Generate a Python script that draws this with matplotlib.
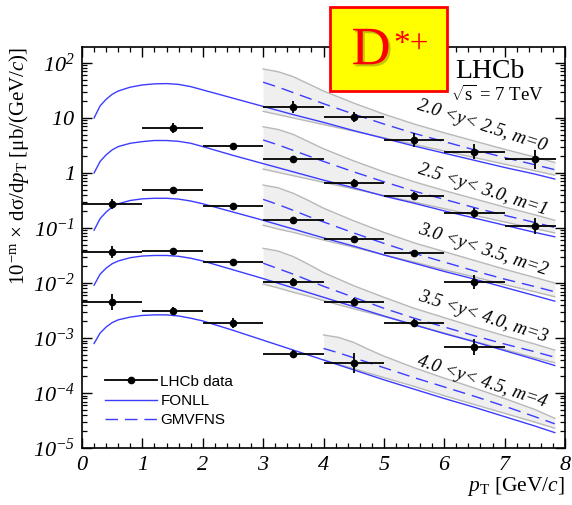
import numpy as np
import matplotlib.pyplot as plt
from matplotlib.patches import Rectangle
from matplotlib.lines import Line2D
from matplotlib.ticker import FixedLocator, FuncFormatter, MultipleLocator, LogLocator, NullFormatter
import matplotlib.patheffects as pe

plt.rcParams['font.family'] = 'Liberation Serif'
# math digits come from the rm font: make it italic, keep sf upright for T, m, s
plt.rcParams['mathtext.fontset'] = 'custom'
plt.rcParams['mathtext.rm'] = 'Liberation Serif:italic'
plt.rcParams['mathtext.it'] = 'Liberation Serif:italic'
plt.rcParams['mathtext.sf'] = 'Liberation Serif'
plt.rcParams['mathtext.bf'] = 'Liberation Serif:bold'

nan = np.nan

# pT bins [GeV/c]
pt_mid = [0.5, 1.5, 2.5, 3.5, 4.5, 5.5, 6.5, 7.5]
pt_lo = [0.0, 1.0, 2.0, 3.0, 4.0, 5.0, 6.0, 7.0]
pt_hi = [1.0, 2.0, 3.0, 4.0, 5.0, 6.0, 7.0, 7.85]

# LHCb D*+ cross sections x 10^-m, one row per rapidity bin
xsec = [
    [nan, nan, nan, 15.8, 10.4, 4.0, 2.45, 1.78],
    [nan, 6.6, 3.1, 1.8, 0.66, 0.38, 0.19, 0.11],
    [0.27, 0.49, 0.25, 0.14, 0.063, 0.035, 0.0105, nan],
    [0.0366, 0.038, 0.024, 0.0104, 0.0045, 0.0019, 0.00069, nan],
    [0.0045, 0.0031, 0.0019, 0.00051, 0.00035, nan, nan, nan],
]
# relative uncertainties
xsec_err = [
    [0, 0, 0, 0.28, 0.23, 0.33, 0.37, 0.49],
    [0, 0.25, 0.13, 0.13, 0.18, 0.18, 0.23, 0.40],
    [0.23, 0.09, 0.16, 0.09, 0.13, 0.13, 0.34, 0],
    [0.26, 0.09, 0.16, 0.16, 0.18, 0.18, 0.40, 0],
    [0.40, 0.18, 0.23, 0.18, 0.52, 0, 0, 0],
]

# FONLL central prediction, log10 of the scaled cross section
fonll_pt = [0.2, 0.3, 0.4, 0.5, 0.6, 0.8, 1.0, 1.2, 1.4, 1.6, 1.8, 2.0,
            2.5, 3.0, 3.5, 4.0, 4.5, 5.0, 5.5, 6.0, 6.5, 7.0, 7.5, 7.83]
fonll_log = [
    [1.00, 1.22, 1.34, 1.43, 1.49, 1.56, 1.60, 1.62, 1.625, 1.61, 1.57, 1.51,
     1.36, 1.21, 1.06, 0.92, 0.77, 0.63, 0.49, 0.36, 0.23, 0.10, -0.02, -0.11],
    [0.00, 0.21, 0.33, 0.42, 0.48, 0.54, 0.57, 0.59, 0.59, 0.575, 0.54, 0.48,
     0.32, 0.17, 0.02, -0.13, -0.27, -0.42, -0.55, -0.69, -0.82, -0.95, -1.08, -1.16],
    [-1.04, -0.83, -0.71, -0.62, -0.56, -0.50, -0.47, -0.46, -0.46, -0.475, -0.51, -0.56,
     -0.71, -0.86, -1.02, -1.18, -1.33, -1.49, -1.64, -1.79, -1.93, -2.08, -2.23, -2.33],
    [-2.04, -1.84, -1.73, -1.65, -1.60, -1.54, -1.51, -1.50, -1.50, -1.515, -1.55, -1.60,
     -1.76, -1.92, -2.09, -2.26, -2.43, -2.60, -2.76, -2.92, -3.07, -3.23, -3.39, -3.50],
    [-3.10, -2.91, -2.80, -2.72, -2.67, -2.62, -2.59, -2.58, -2.58, -2.60, -2.64, -2.69,
     -2.86, -3.04, -3.22, -3.40, -3.58, -3.76, -3.93, -4.10, -4.26, -4.43, -4.60, -4.72],
]

# GMVFNS band (upper, central, lower), log10
gmv_grid = [3.0, 3.25, 3.5, 3.75, 4.0, 4.5, 5.0, 5.5, 6.0, 6.5, 7.0, 7.5, 7.83]
gmv_grid_fwd = [4.0, 4.25, 4.5, 4.75, 5.0, 5.5, 6.0, 6.5, 7.0, 7.5, 7.83]
gmv_pt = [gmv_grid, gmv_grid, gmv_grid, gmv_grid, gmv_grid_fwd]
gmv_hi = [
    [1.89, 1.84, 1.75, 1.62, 1.49, 1.27, 1.07, 0.89, 0.73, 0.58, 0.43, 0.29, 0.19],
    [0.84, 0.79, 0.70, 0.57, 0.44, 0.22, 0.02, -0.16, -0.32, -0.47, -0.62, -0.76, -0.86],
    [-0.22, -0.27, -0.37, -0.50, -0.64, -0.87, -1.08, -1.27, -1.43, -1.59, -1.75, -1.90, -2.00],
    [-1.37, -1.42, -1.52, -1.66, -1.81, -2.05, -2.26, -2.46, -2.63, -2.80, -2.96, -3.11, -3.22],
    [-2.945, -2.99, -3.08, -3.21, -3.33, -3.54, -3.73, -3.91, -4.10, -4.30, -4.46],
]
gmv_mid = [
    [1.65, 1.56, 1.46, 1.36, 1.26, 1.07, 0.89, 0.72, 0.57, 0.42, 0.28, 0.15, 0.06],
    [0.60, 0.51, 0.41, 0.31, 0.21, 0.02, -0.16, -0.33, -0.48, -0.63, -0.77, -0.90, -0.99],
    [-0.48, -0.575, -0.68, -0.79, -0.89, -1.09, -1.28, -1.46, -1.62, -1.78, -1.93, -2.065, -2.16],
    [-1.64, -1.74, -1.84, -1.95, -2.06, -2.26, -2.46, -2.64, -2.80, -2.96, -3.11, -3.25, -3.35],
    [-3.19, -3.27, -3.36, -3.45, -3.54, -3.72, -3.89, -4.06, -4.24, -4.43, -4.56],
]
gmv_lo = [
    [1.12, 1.06, 1.00, 0.94, 0.88, 0.76, 0.64, 0.52, 0.40, 0.28, 0.16, 0.04, -0.04],
    [0.07, 0.01, -0.05, -0.11, -0.17, -0.29, -0.41, -0.53, -0.65, -0.77, -0.89, -1.01, -1.09],
    [-0.95, -1.02, -1.08, -1.15, -1.22, -1.35, -1.49, -1.62, -1.76, -1.89, -2.03, -2.16, -2.25],
    [-2.02, -2.09, -2.17, -2.24, -2.32, -2.47, -2.61, -2.76, -2.91, -3.06, -3.21, -3.36, -3.45],
    [-3.40, -3.48, -3.56, -3.64, -3.72, -3.88, -4.05, -4.21, -4.37, -4.53, -4.64],
]

y_labels = ['2.0 <y< 2.5, m=0', '2.5 <y< 3.0, m=1', '3.0 <y< 3.5, m=2',
            '3.5 <y< 4.0, m=3', '4.0 <y< 4.5, m=4']
y_label_pos = [(6.62, 0.85), (6.64, -0.31), (6.64, -1.40), (6.64, -2.62), (6.62, -3.80)]

blue = '#3c3cff'
band_face = '#efefef'
band_edge = '#b8b8b8'

fig = plt.figure(figsize=(5.72, 5.05), dpi=100)
ax = fig.add_axes([82/572, 1-448/505, 483/572, 401/505])
ax.set_yscale('log')

for i in range(5):
    xs = np.array(gmv_pt[i])
    hi = 10**np.array(gmv_hi[i])
    mid = 10**np.array(gmv_mid[i])
    lo = 10**np.array(gmv_lo[i])
    ax.fill_between(xs, lo, hi, color=band_face, lw=0, zorder=1)
    ax.plot(xs, hi, color=band_edge, lw=1.0, zorder=2)
    ax.plot(xs, lo, color=band_edge, lw=1.0, zorder=2)
    ax.plot(xs, mid, color=blue, lw=1.0, dashes=(9, 5), zorder=3)
    ax.plot(fonll_pt, 10**np.array(fonll_log[i]), color=blue, lw=1.0, zorder=3)

for i in range(5):
    v = np.array(xsec[i])
    f = np.array(xsec_err[i])
    xm = np.array(pt_mid)
    xerr = [xm - np.array(pt_lo), np.array(pt_hi) - xm]
    yerr = [v - v/(1+f), v*f]
    ax.errorbar(xm, v, xerr=xerr, yerr=yerr, fmt='o', color='black', ms=4.5,
                elinewidth=1.3, capsize=0, zorder=5)

for lab, (tx, ty) in zip(y_labels, y_label_pos):
    ax.text(tx, 10**ty, lab, rotation=-18, style='italic', fontsize=13.5,
            ha='center', va='center', rotation_mode='anchor')

ax.set_xlim(0, 8)
ax.set_ylim(1e-5, 10**2.29)

ax.xaxis.set_major_locator(MultipleLocator(1))
ax.xaxis.set_minor_locator(MultipleLocator(0.2))
ax.xaxis.set_major_formatter(FuncFormatter(lambda v, p: r'$%d$' % round(v)))

dec_labels = {2: r'$10^{2}$', 1: r'$10$', 0: r'$1$'}
ax.yaxis.set_major_locator(FixedLocator([10.0**k for k in range(-5, 3)]))
ax.yaxis.set_minor_locator(LogLocator(base=10, subs=np.arange(2, 10), numticks=20))
ax.yaxis.set_minor_formatter(NullFormatter())
ax.yaxis.set_major_formatter(FuncFormatter(
    lambda v, p: dec_labels.get(round(np.log10(v)), r'$10^{%d}$' % round(np.log10(v)))))

ax.tick_params(which='both', direction='in', top=True, right=True, labelsize=16)
ax.tick_params(which='major', length=7, width=1.0)
ax.tick_params(which='minor', length=3.5, width=0.9)
ax.tick_params(axis='x', pad=6)
ax.tick_params(axis='y', pad=5)
for s in ax.spines.values():
    s.set_linewidth(1.2)

ax.set_ylabel(r'10$^{-\mathsf{m}}$ × dσ/d$p_{\mathsf{T}}$ [μb/(GeV/$c$)]',
              fontsize=15, loc='top', labelpad=1)
ax.set_xlabel(r'$p_{\mathsf{T}}$ [GeV/$c$]', fontsize=15.5, loc='right', labelpad=0)

handles = [Line2D([], [], color='black', marker='o', ms=4.5, lw=1.3),
           Line2D([], [], color=blue, lw=1.0),
           Line2D([], [], color=blue, lw=1.0, dashes=(9, 5))]
ax.legend(handles, ['LHCb data', 'FONLL', 'GMVFNS'], loc='upper left',
          bbox_to_anchor=(0.047, 0.183), borderaxespad=0, borderpad=0,
          frameon=False, handlelength=3.4, handletextpad=0.25, labelspacing=0.35,
          prop={'family': 'Liberation Sans', 'size': 11})

ax.text(0.773, 0.94, 'LHCb', transform=ax.transAxes, fontsize=20, ha='left', va='center')
ax.text(0.763, 0.88, r'$\sqrt{\mathsf{s}}$ = 7 TeV', transform=ax.transAxes, fontsize=13.5,
        ha='left', va='center')

# particle tag
box = Rectangle((330/572, 1-91/505), 117/572, 84/505, transform=fig.transFigure,
                facecolor='#ffff00', edgecolor='#ff0000', lw=2, zorder=10)
fig.add_artist(box)
fig.text(371/572, 1-51/505, 'D', color='#ff0000', fontsize=39, ha='center', va='center',
         zorder=11, path_effects=[pe.withSimplePatchShadow(offset=(1.5, -1.5),
                                                             shadow_rgbFace='#8a8a00', alpha=0.5)])
fig.text(393/572, 1-29/505, '*+', color='#ff0000', fontsize=24, ha='left', va='top', zorder=11)

fig.savefig('out.png', dpi=100)
